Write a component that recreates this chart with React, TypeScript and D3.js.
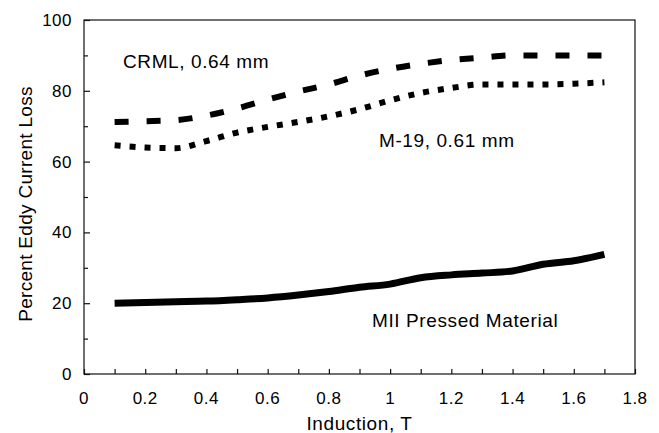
import React, { useRef, useEffect } from "react";
import * as d3 from "d3";

// induction values (T), shared by all three curves
const induction = [0.1, 0.2, 0.3, 0.4, 0.5, 0.6, 0.7, 0.8, 0.9, 1.0, 1.1, 1.2, 1.3, 1.4, 1.5, 1.6, 1.7];
const crml = [71.2, 71.4, 71.7, 73, 75, 77.5, 79.8, 81.8, 84.3, 86.2, 87.6, 88.7, 89.4, 90, 90, 90, 90];
const m19 = [64.6, 64, 63.8, 65.8, 68.2, 69.8, 71.2, 72.8, 74.8, 77.3, 79.4, 80.8, 81.8, 81.8, 81.8, 82, 82.4];
const mii = [20, 20.2, 20.4, 20.6, 21, 21.5, 22.3, 23.3, 24.5, 25.4, 27.2, 28, 28.5, 29.1, 31, 32, 33.8];

const xTicks = [0, 0.2, 0.4, 0.6, 0.8, 1, 1.2, 1.4, 1.6, 1.8];
const yTicks = [0, 20, 40, 60, 80, 100];

export default function App() {
  const svgRef = useRef<SVGSVGElement>(null);

  useEffect(() => {
    const w = 659;
    const h = 433;
    const svg = d3.select(svgRef.current).attr("width", w).attr("height", h);
    svg.selectAll("*").remove();

    const font = "'Liberation Sans', Arial, sans-serif";
    const x = d3.scaleLinear().domain([0, 1.8]).range([84, 635]);
    const y = d3.scaleLinear().domain([0, 100]).range([374, 20]);

    // frame
    svg
      .append("rect")
      .attr("x", x(0))
      .attr("y", y(100))
      .attr("width", x(1.8) - x(0))
      .attr("height", y(0) - y(100))
      .attr("fill", "none")
      .attr("stroke", "#111")
      .attr("stroke-width", 1.2);

    // x axis (ticks inside)
    const xMinor = d3.range(0, 19).map((i) => i / 10);
    svg
      .append("g")
      .attr("transform", `translate(0,${y(0)})`)
      .call(d3.axisBottom(x).tickValues(xMinor).tickSize(-5).tickFormat(() => ""))
      .call((g) => g.select(".domain").remove())
      .call((g) => g.selectAll("line").attr("stroke", "#111").attr("stroke-width", 1.2));

    svg
      .append("g")
      .selectAll("text")
      .data(xTicks)
      .join("text")
      .attr("x", (d) => x(d))
      .attr("y", 404)
      .attr("text-anchor", "middle")
      .style("font-family", font)
      .style("font-size", "17px")
      .style("letter-spacing", "0.5px")
      .text((d) => String(d));

    // y axis
    const yMinor = d3.range(10, 100, 20);
    svg
      .append("g")
      .attr("transform", `translate(${x(0)},0)`)
      .call(d3.axisLeft(y).tickValues(yTicks).tickSize(-6).tickFormat(() => ""))
      .call((g) => g.select(".domain").remove())
      .call((g) => g.selectAll("line").attr("stroke", "#111").attr("stroke-width", 1.2));
    svg
      .append("g")
      .attr("transform", `translate(${x(0)},0)`)
      .call(d3.axisLeft(y).tickValues(yMinor).tickSize(-4).tickFormat(() => ""))
      .call((g) => g.select(".domain").remove())
      .call((g) => g.selectAll("line").attr("stroke", "#111").attr("stroke-width", 1.2));

    svg
      .append("g")
      .selectAll("text")
      .data(yTicks)
      .join("text")
      .attr("x", 72)
      .attr("y", (d) => y(d) + 6)
      .attr("text-anchor", "end")
      .style("font-family", font)
      .style("font-size", "17px")
      .style("letter-spacing", "0.5px")
      .text((d) => String(d));

    // titles
    svg
      .append("text")
      .attr("x", (x(0) + x(1.8)) / 2)
      .attr("y", 430)
      .attr("text-anchor", "middle")
      .style("font-family", font)
      .style("font-size", "19px")
      .style("letter-spacing", "0.6px")
      .text("Induction, T");

    svg
      .append("text")
      .attr("transform", `translate(32,${204}) rotate(-90)`)
      .attr("text-anchor", "middle")
      .style("font-family", font)
      .style("font-size", "19px")
      .style("letter-spacing", "0.3px")
      .text("Percent Eddy Current Loss");

    // curves
    const line = d3
      .line<number>()
      .x((d, i) => x(induction[i]))
      .y((d) => y(d))
      .curve(d3.curveMonotoneX);

    svg
      .append("path")
      .attr("d", line(crml))
      .attr("fill", "none")
      .attr("stroke", "#000")
      .attr("stroke-width", 6)
      .attr("stroke-dasharray", "14 18");

    svg
      .append("path")
      .attr("d", line(m19))
      .attr("fill", "none")
      .attr("stroke", "#000")
      .attr("stroke-width", 6)
      .attr("stroke-dasharray", "6 9");

    svg
      .append("path")
      .attr("d", line(mii))
      .attr("fill", "none")
      .attr("stroke", "#000")
      .attr("stroke-width", 7);

    // labels
    const labels = [
      { t: "CRML, 0.64 mm", x: 123, y: 68 },
      { t: "M-19, 0.61 mm", x: 379, y: 147 },
      { t: "MII Pressed Material", x: 372, y: 327 },
    ];
    svg
      .append("g")
      .selectAll("text")
      .data(labels)
      .join("text")
      .attr("x", (d) => d.x)
      .attr("y", (d) => d.y)
      .style("font-family", font)
      .style("font-size", "19px")
      .style("letter-spacing", "0.6px")
      .text((d) => d.t);
  }, []);

  return (
    <svg
      ref={svgRef}
      style={{ position: "absolute", left: 0, top: 0, background: "#fff" }}
    ></svg>
  );
}
